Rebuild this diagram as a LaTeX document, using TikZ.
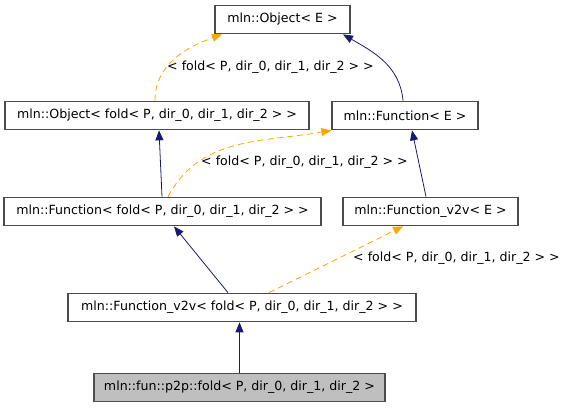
\documentclass[tikz,border=0pt]{standalone}
\usepackage{fontspec}
\setmainfont{DejaVu Sans}
\usetikzlibrary{arrows.meta}
\definecolor{bleunuit}{HTML}{191970}
\definecolor{orangegab}{HTML}{FFA500}

\begin{document}
\begin{tikzpicture}[x=1pt,y=-1pt,
    classe/.style={draw=black!70, fill=white, line width=1.2pt, minimum height=28.5pt, inner xsep=0pt, font=\fontsize{12.6}{14}\selectfont},
    feuille/.style={classe, fill=black!25},
    herit/.style={draw=bleunuit, line width=0.8pt, -{Triangle[length=10pt,width=8pt]}},
    gabarit/.style={draw=orangegab, line width=0.8pt, dash pattern=on 6pt off 4pt, -{Triangle[length=10pt,width=8pt]}},
    etiquette/.style={font=\fontsize{12.6}{14}\selectfont, inner sep=0pt}]

\useasboundingbox (0,0) rectangle (567,408);

% les classes
\node[classe, minimum width=135pt] (objE) at (282.5,19.5) {mln::Object< E >};
\node[classe, minimum width=304pt] (objfold) at (157,115.5) {mln::Object< fold< P, dir\_0, dir\_1, dir\_2 > >};
\node[classe, minimum width=146pt] (funE) at (405,115.5) {mln::Function< E >};
\node[classe, minimum width=317pt] (funfold) at (162.5,211.5) {mln::Function< fold< P, dir\_0, dir\_1, dir\_2 > >};
\node[classe, minimum width=175pt] (vvE) at (430.5,211.5) {mln::Function\_v2v< E >};
\node[classe, minimum width=348pt] (vvfold) at (242,307.5) {mln::Function\_v2v< fold< P, dir\_0, dir\_1, dir\_2 > >};
\node[feuille, minimum width=291pt] (fold) at (239.5,387.5) {mln::fun::p2p::fold< P, dir\_0, dir\_1, dir\_2 >};

% heritages
\draw[herit] ([xshift=-2pt]funE.north) to[out=95,in=-30] ([xshift=60.5pt]objE.south);
\draw[herit] ([xshift=-0.5pt]funfold.north) -- ([xshift=2pt]objfold.south);
\draw[herit] ([xshift=-4.5pt]vvE.north) -- ([xshift=7pt]funE.south);
\draw[herit] ([xshift=-14pt]vvfold.north) -- ([xshift=11.5pt]funfold.south);
\draw[herit] (fold.north) -- (fold.north |- vvfold.south);

% instanciations de gabarit
\draw[gabarit] ([xshift=-2pt]objfold.north) to[out=90,in=200] ([xshift=-60.5pt]objE.south);
\draw[gabarit] ([xshift=5.5pt]funfold.north) to[out=62,in=190] (funE.south west);
\draw[gabarit] ([xshift=27pt]vvfold.north) -- ([xshift=-27.5pt]vvE.south);

% etiquettes
\node[etiquette, anchor=west] (lab1) at (167,67) {< fold< P, dir\_0, dir\_1, dir\_2 > >};
\node[etiquette, anchor=west] (lab2) at (201,162) {< fold< P, dir\_0, dir\_1, dir\_2 > >};
\node[etiquette, anchor=west] (lab3) at (353,258) {< fold< P, dir\_0, dir\_1, dir\_2 > >};

\end{tikzpicture}
\end{document}
